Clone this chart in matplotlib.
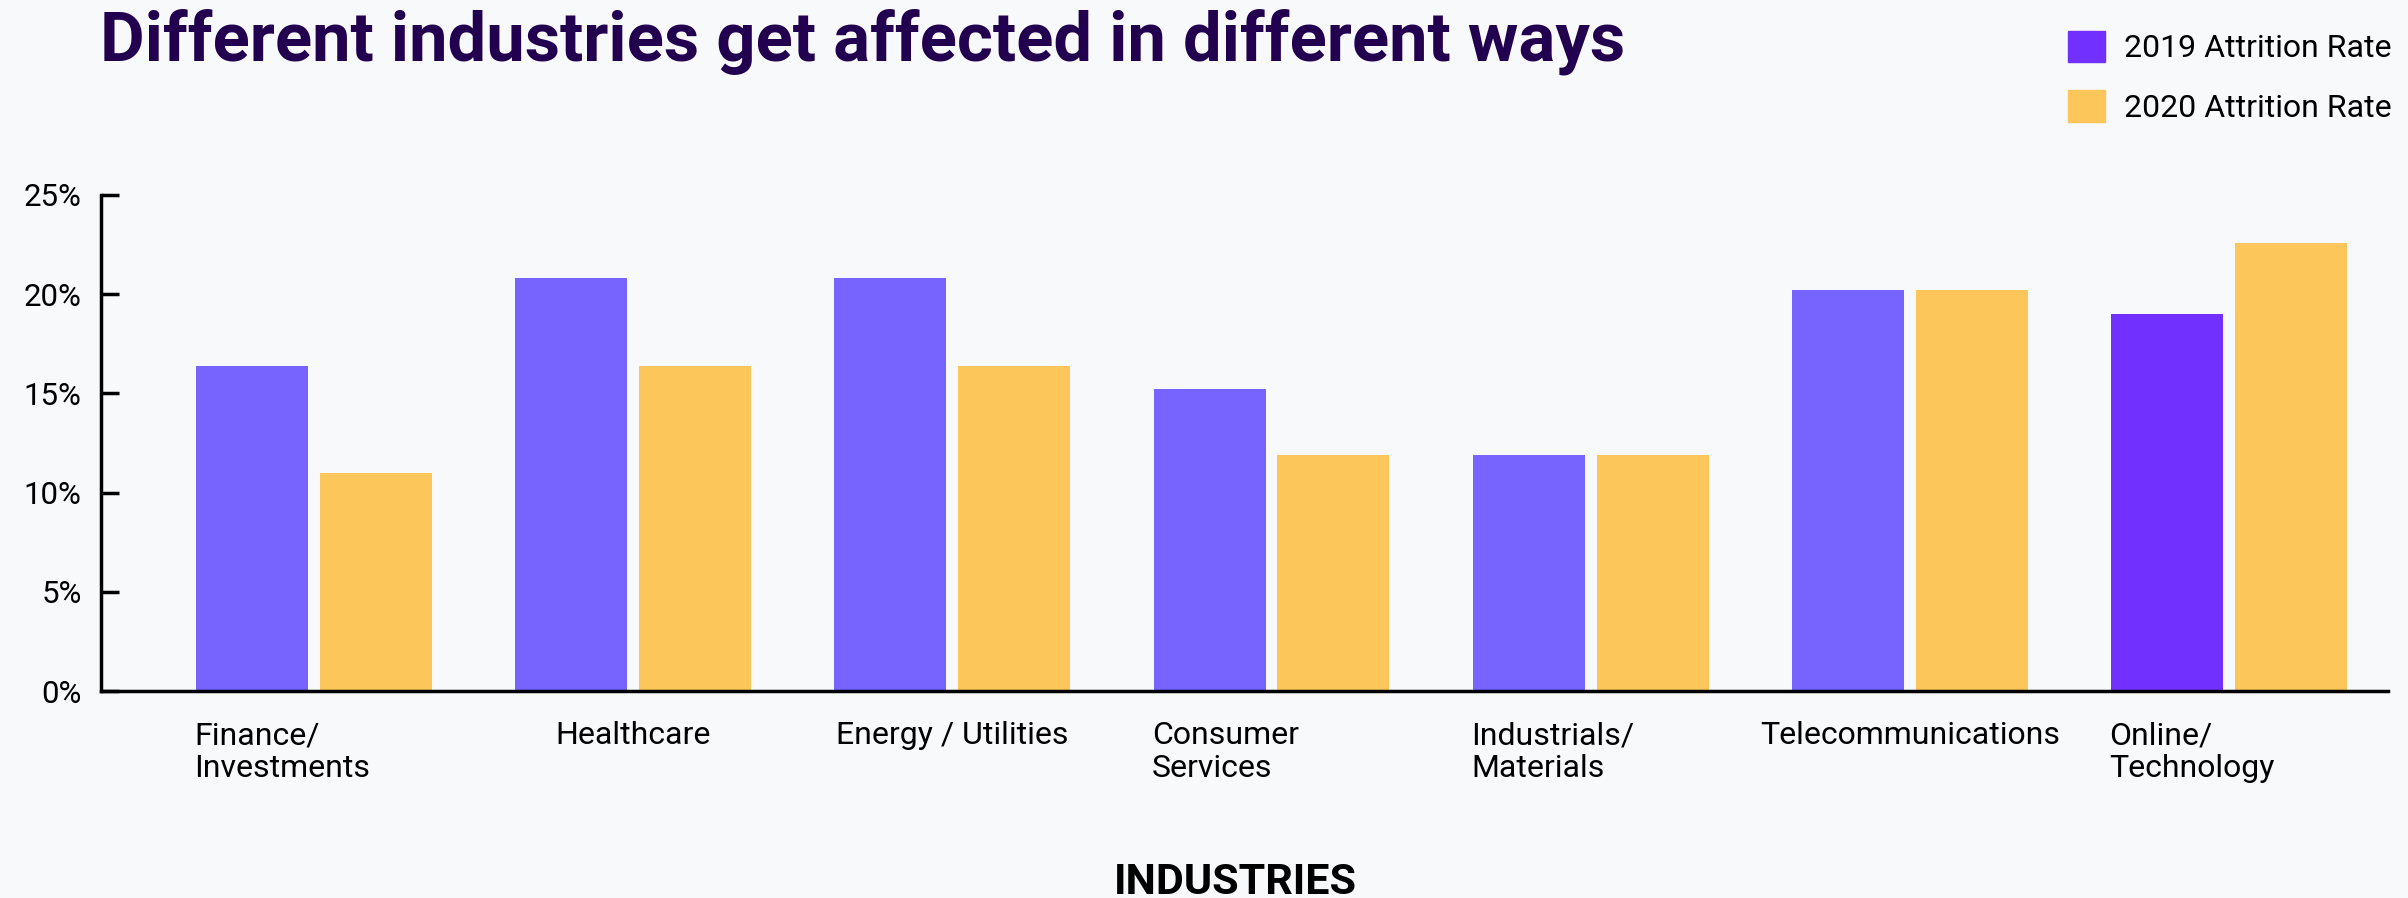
import numpy as np
import matplotlib.pyplot as plt
from matplotlib.patches import Patch
from matplotlib import transforms

plt.rcParams['font.family'] = ['Roboto', 'DejaVu Sans']

industries = ['Finance/\nInvestments', 'Healthcare', 'Energy / Utilities',
              'Consumer\nServices', 'Industrials/\nMaterials',
              'Telecommunications', 'Online/\nTechnology']
rate_2019 = [16.4, 20.8, 20.8, 15.2, 11.9, 20.2, 19.0]
rate_2020 = [11.0, 16.4, 16.4, 11.9, 11.9, 20.2, 22.6]
yticks = [0, 5, 10, 15, 20, 25]

bg = '#F8F9FB'
c19 = '#7764FE'
c19_hi = '#7230FF'
c20 = '#FDC65B'

fig = plt.figure(figsize=(24.08, 8.98), dpi=100, facecolor=bg)
ax = fig.add_axes([0.042, 0.2305, 0.9497, 0.5524], facecolor=bg)

x = np.arange(len(industries))
w = 0.351
off = 0.194
cols19 = [c19] * (len(x) - 1) + [c19_hi]
ax.bar(x - off, rate_2019, width=w, color=cols19, zorder=2)
ax.bar(x + off, rate_2020, width=w, color=c20, zorder=2)

ax.set_xlim(-0.667, 6.498)
ax.set_ylim(0, 25)
ax.set_yticks(yticks)
ax.set_yticklabels([f'{v}%' for v in yticks])
ax.set_xticks([])
for s in ['top', 'right']:
    ax.spines[s].set_visible(False)
for s in ['left', 'bottom']:
    ax.spines[s].set_linewidth(2.5)
    ax.spines[s].set_color('black')
ax.tick_params(axis='y', direction='in', length=13, width=2.5, pad=14,
               labelsize=22.5, colors='black')

# category labels below the axis
trans = transforms.blended_transform_factory(ax.transData, fig.transFigure)
for i, lab in enumerate(industries):
    if '\n' in lab:
        ax.text(i - off - w / 2 - 0.005, 0.197, lab, transform=trans,
                ha='left', va='top', fontsize=23, linespacing=1.15)
    else:
        ax.text(i, 0.197, lab, transform=trans, ha='center', va='top',
                fontsize=23)

fig.text(0.513, 0.005, 'INDUSTRIES', ha='center', va='baseline',
         fontsize=31, fontweight='bold', color='black')

fig.text(0.0415, 0.99, 'Different industries get affected in different ways',
         ha='left', va='top', fontsize=49.5, fontweight='bold', color='#22004F')

handles = [Patch(color=c19_hi, label='2019 Attrition Rate'),
           Patch(color=c20, label='2020 Attrition Rate')]
fig.legend(handles=handles, loc='upper right', bbox_to_anchor=(0.9934, 0.966),
           frameon=False, fontsize=23, handlelength=1.16, handleheight=1.16,
           handletextpad=0.62, labelspacing=0.85, borderpad=0,
           borderaxespad=0)

fig.savefig('out.png', dpi=100, facecolor=bg)
